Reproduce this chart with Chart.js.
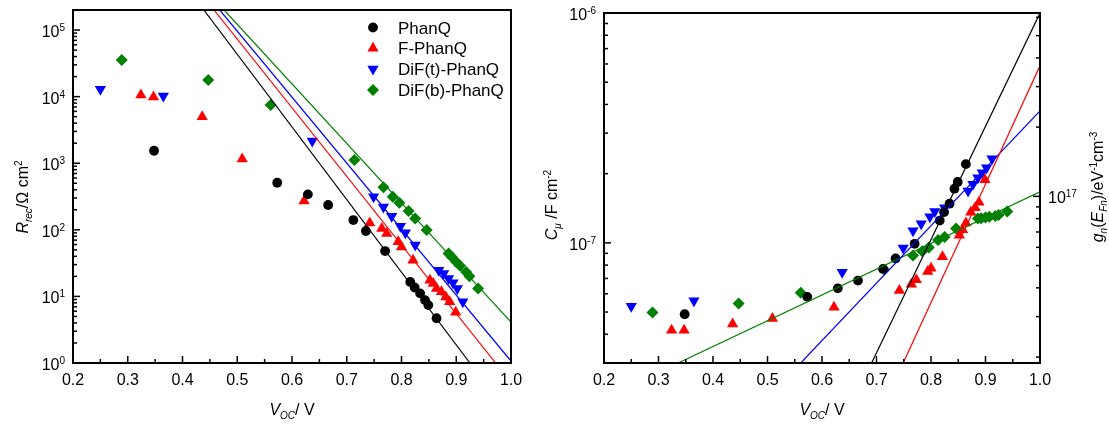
<!DOCTYPE html>
<html>
<head>
<meta charset="utf-8">
<script src="https://cdn.jsdelivr.net/npm/chart.js@4.4.1/dist/chart.umd.min.js"></script>
<style>
  html, body { margin: 0; padding: 0; background: #fff; }
  #wrap { position: relative; width: 1109px; height: 424px; }
  canvas { position: absolute; top: 0; }
</style>
</head>
<body>
<div id="wrap">
  <canvas id="rec" width="530" height="424" style="left:0"></canvas>
  <canvas id="cap" width="579" height="424" style="left:530px"></canvas>
</div>
<script>
// open-circuit voltages (V) per material
const vPhanQ = [0.348, 0.573, 0.629, 0.666, 0.712, 0.735, 0.770, 0.816, 0.824, 0.834, 0.843, 0.849, 0.864];
const vF = [0.324, 0.347, 0.436, 0.509, 0.622, 0.742, 0.764, 0.773, 0.794, 0.800, 0.821, 0.852, 0.858, 0.864, 0.873, 0.881, 0.888, 0.899];
const vDiFt = [0.250, 0.365, 0.637, 0.749, 0.767, 0.782, 0.798, 0.807, 0.825, 0.868, 0.877, 0.886, 0.894, 0.902, 0.912];
const vDiFb = [0.289, 0.447, 0.561, 0.714, 0.767, 0.784, 0.796, 0.813, 0.825, 0.846, 0.886, 0.892, 0.900, 0.907, 0.918, 0.924, 0.940];

// recombination resistance (Ohm cm2)
const rPhanQ = [1540, 509, 341, 236, 140, 96, 48, 16.5, 13.6, 11.1, 8.8, 7.4, 4.7];
const rF = [10600, 9900, 5000, 1160, 270, 127, 105, 88, 66, 55, 35, 17.5, 15.6, 13.2, 11.7, 9.8, 8.3, 5.8];
const rDiFt = [12900, 10200, 2160, 313, 221, 160, 113, 90, 59, 24.8, 22.1, 18.6, 16, 13.2, 8.3];
const rDiFb = [35600, 17800, 7500, 1120, 434, 313, 255, 191, 148, 99, 44, 39, 33, 28.8, 23.3, 20.1, 13.2];

// chemical capacitance (F cm-2)
const cPhanQ = [4.89e-8, 5.82e-8, 6.34e-8, 6.85e-8, 7.7e-8, 8.55e-8, 9.9e-8, 1.25e-7, 1.36e-7, 1.48e-7, 1.72e-7, 1.84e-7, 2.20e-7];
const cF = [4.17e-8, 4.17e-8, 4.43e-8, 4.69e-8, 5.24e-8, 6.2e-8, 6.6e-8, 6.9e-8, 7.5e-8, 7.75e-8, 8.7e-8, 1.08e-7, 1.14e-7, 1.22e-7, 1.36e-7, 1.42e-7, 1.50e-7, 1.88e-7];
const cDiFt = [5.3e-8, 5.6e-8, 7.45e-8, 9.5e-8, 1.13e-7, 1.21e-7, 1.30e-7, 1.37e-7, 1.42e-7, 1.68e-7, 1.80e-7, 1.92e-7, 2.02e-7, 2.12e-7, 2.32e-7];
const cDiFb = [4.97e-8, 5.45e-8, 6.07e-8, 7.66e-8, 8.8e-8, 9.2e-8, 9.55e-8, 1.03e-7, 1.06e-7, 1.155e-7, 1.275e-7, 1.28e-7, 1.29e-7, 1.30e-7, 1.31e-7, 1.32e-7, 1.37e-7];

// fitted lines, [V, value] end points
const recFitPhanQ = [[0.439, 2e5], [0.925, 1]];
const recFitF = [[0.4575, 2e5], [0.972, 1]];
const recFitDiFt = [[0.468, 2e5], [1.0, 1.07]];
const recFitDiFb = [[0.476, 2e5], [1.0, 4.1]];
const capFitPhanQ = [[0.691, 3e-8], [1.0, 1e-6]];
const capFitF = [[0.749, 3e-8], [1.0, 5.89e-7]];
const capFitDiFt = [[0.561, 3e-8], [1.0, 3.75e-7]];
const capFitDiFb = [[0.336, 3e-8], [1.0, 1.667e-7]];

const names = ['PhanQ', 'F-PhanQ', 'DiF(t)-PhanQ', 'DiF(b)-PhanQ'];
const xTicks = [0.2, 0.3, 0.4, 0.5, 0.6, 0.7, 0.8, 0.9, 1.0];

const FONT = 'Arial, "Liberation Sans", sans-serif';
const colors = ['#000000', '#ff0000', '#0000ff', '#008000'];
const styles = [
  { pointStyle: 'circle', radius: 4.9, rotation: 0 },
  { pointStyle: 'triangle', radius: 6.5, rotation: 0 },
  { pointStyle: 'triangle', radius: 6.5, rotation: 180 },
  { pointStyle: 'rectRot', radius: 6, rotation: 0 }
];

const zip = (xs, ys) => xs.map((x, i) => ({ x: x, y: ys[i] }));
const pts = pairs => pairs.map(p => ({ x: p[0], y: p[1] }));

function markerSet(i, xs, ys) {
  return {
    label: names[i], data: zip(xs, ys), order: 2,
    pointStyle: styles[i].pointStyle, pointRadius: styles[i].radius,
    pointRotation: styles[i].rotation, pointHoverRadius: styles[i].radius,
    backgroundColor: colors[i], borderColor: colors[i], borderWidth: 0
  };
}
function fitSet(i, pairs) {
  return {
    label: names[i] + ' fit', data: pts(pairs), order: 1, showLine: true,
    pointRadius: 0, borderColor: colors[i], borderWidth: 1.2, fill: false
  };
}

// text with italic / sub / superscript pieces: [text, size, italic, shift]
function rich(ctx, parts, x, y, align) {
  const fontOf = p => (p[2] ? 'italic ' : '') + p[1] + 'px ' + FONT;
  let w = 0;
  parts.forEach(p => { ctx.font = fontOf(p); w += ctx.measureText(p[0]).width; });
  let cx = align === 'right' ? x - w : align === 'center' ? x - w / 2 : x;
  ctx.textAlign = 'left';
  ctx.textBaseline = 'alphabetic';
  parts.forEach(p => {
    ctx.font = fontOf(p);
    ctx.fillText(p[0], cx, y + (p[3] || 0));
    cx += ctx.measureText(p[0]).width;
  });
}

function marker(ctx, i, x, y) {
  const r = styles[i].radius;
  ctx.fillStyle = colors[i];
  ctx.beginPath();
  if (i === 0) {
    ctx.arc(x, y, r, 0, Math.PI * 2);
  } else if (i === 3) {
    ctx.moveTo(x, y - r); ctx.lineTo(x + r, y); ctx.lineTo(x, y + r); ctx.lineTo(x - r, y);
  } else {
    const s = i === 1 ? 1 : -1;
    const a = Math.PI * 2 / 3;
    for (let k = 0; k < 3; k++) {
      const px = x + Math.sin(k * a) * r, py = y - s * Math.cos(k * a) * r;
      k ? ctx.lineTo(px, py) : ctx.moveTo(px, py);
    }
  }
  ctx.closePath();
  ctx.fill();
}

function logTicks(ctx, scale, x, dir, labelX) {
  const lo = Math.floor(Math.log10(scale.min) + 1e-9), hi = Math.ceil(Math.log10(scale.max) - 1e-9);
  for (let d = lo; d <= hi; d++) {
    for (let k = 1; k < 10; k++) {
      const v = k * Math.pow(10, d);
      if (v < scale.min * 0.999 || v > scale.max * 1.001) continue;
      const y = scale.getPixelForValue(v);
      ctx.beginPath();
      ctx.moveTo(x, y);
      ctx.lineTo(x + dir * (k === 1 ? 7 : 4), y);
      ctx.stroke();
      if (k === 1 && labelX !== undefined) {
        const parts = [['10', 16], [String(d), 10, false, -6]];
        rich(ctx, parts, labelX, y + 7, dir > 0 ? 'right' : 'left');
      }
    }
  }
}

const framePlugin = {
  id: 'frame',
  afterDraw(chart, args, opts) {
    const ctx = chart.ctx, a = chart.chartArea;
    const xs = chart.scales.x, ys = chart.scales.y;
    ctx.save();
    ctx.strokeStyle = '#000';
    ctx.fillStyle = '#000';
    ctx.lineWidth = 1.5;
    // x ticks, pointing inward
    for (let i = 0; i <= 16; i++) {
      const v = 0.2 + i * 0.05;
      const px = xs.getPixelForValue(v);
      ctx.beginPath();
      ctx.moveTo(px, a.bottom);
      ctx.lineTo(px, a.bottom - (i % 2 ? 4 : 7));
      ctx.stroke();
    }
    xTicks.forEach(v => {
      ctx.font = '16px ' + FONT;
      ctx.textAlign = 'center';
      ctx.textBaseline = 'alphabetic';
      ctx.fillText(v.toFixed(1), xs.getPixelForValue(v), a.bottom + 22);
    });
    logTicks(ctx, ys, a.left, 1, a.left - 8);
    if (chart.scales.y2) logTicks(ctx, chart.scales.y2, a.right, -1, a.right + 8);
    ctx.lineWidth = 2;
    ctx.strokeRect(a.left, a.top, a.right - a.left, a.bottom - a.top);

    // axis titles
    ctx.fillStyle = '#000';
    rich(ctx, [['V', 16, true], ['OC', 10, true, 4], ['/ V', 16]], (a.left + a.right) / 2, 415, 'center');
    const rot = (parts, x, y) => {
      ctx.save();
      ctx.translate(x, y);
      ctx.rotate(-Math.PI / 2);
      rich(ctx, parts, 0, 0, 'center');
      ctx.restore();
    };
    rot(opts.yTitle, opts.yTitleX, opts.yTitleY);
    if (opts.y2Title) rot(opts.y2Title, opts.y2TitleX, opts.y2TitleY);

    if (opts.legend) {
      names.forEach((n, i) => {
        const y = 27.5 + i * 20.8;
        marker(ctx, i, 373, y);
        ctx.fillStyle = '#000';
        rich(ctx, [[n, 17]], 398, y + 6, 'left');
      });
    }
    ctx.restore();
  }
};

function axes(yMin, yMax, yWidth) {
  return {
    x: {
      type: 'linear', min: 0.2, max: 1.0,
      ticks: { display: false }, grid: { display: false }, border: { display: false },
      afterFit: s => { s.height = 61; }
    },
    y: {
      type: 'logarithmic', min: yMin, max: yMax,
      ticks: { display: false }, grid: { display: false }, border: { display: false },
      afterFit: s => { s.width = yWidth; }
    }
  };
}

new Chart(document.getElementById('rec'), {
  type: 'scatter',
  data: {
    datasets: [
      markerSet(0, vPhanQ, rPhanQ), markerSet(1, vF, rF),
      markerSet(2, vDiFt, rDiFt), markerSet(3, vDiFb, rDiFb),
      fitSet(0, recFitPhanQ), fitSet(1, recFitF), fitSet(2, recFitDiFt), fitSet(3, recFitDiFb)
    ]
  },
  options: {
    responsive: false, animation: false, devicePixelRatio: 1,
    layout: { padding: { left: 0, right: 19, top: 10, bottom: 0 } },
    plugins: {
      legend: { display: false }, tooltip: { enabled: false },
      frame: {
        legend: true,
        yTitle: [['R', 16, true], ['rec', 10, true, 4], ['/Ω cm', 16], ['2', 10, false, -6]],
        yTitleX: 28, yTitleY: 197
      }
    },
    scales: axes(1, 2e5, 73)
  },
  plugins: [framePlugin]
});

const capScales = axes(3e-8, 1e-6, 74);
capScales.y2 = {
  type: 'logarithmic', position: 'right', min: 1.885e16, max: 6.27e17,
  ticks: { display: false }, grid: { display: false }, border: { display: false },
  afterFit: s => { s.width = 69; }
};

new Chart(document.getElementById('cap'), {
  type: 'scatter',
  data: {
    datasets: [
      markerSet(0, vPhanQ, cPhanQ), markerSet(1, vF, cF),
      markerSet(2, vDiFt, cDiFt), markerSet(3, vDiFb, cDiFb),
      fitSet(0, capFitPhanQ), fitSet(1, capFitF), fitSet(2, capFitDiFt), fitSet(3, capFitDiFb)
    ]
  },
  options: {
    responsive: false, animation: false, devicePixelRatio: 1,
    layout: { padding: { left: 0, right: 0, top: 13, bottom: 0 } },
    plugins: {
      legend: { display: false }, tooltip: { enabled: false },
      frame: {
        legend: false,
        yTitle: [['C', 16, true], ['μ', 10, true, 4], [' /F cm', 16], ['-2', 10, false, -6]],
        yTitleX: 27, yTitleY: 205,
        y2Title: [['g', 16, true], ['n', 10, true, 4], ['(', 16], ['E', 16, true], ['Fn', 10, true, 4],
                  [')/eV', 16], ['-1', 10, false, -6], ['cm', 16], ['-3', 10, false, -6]],
        y2TitleX: 573, y2TitleY: 187
      }
    },
    scales: capScales
  },
  plugins: [framePlugin]
});
</script>
</body>
</html>
